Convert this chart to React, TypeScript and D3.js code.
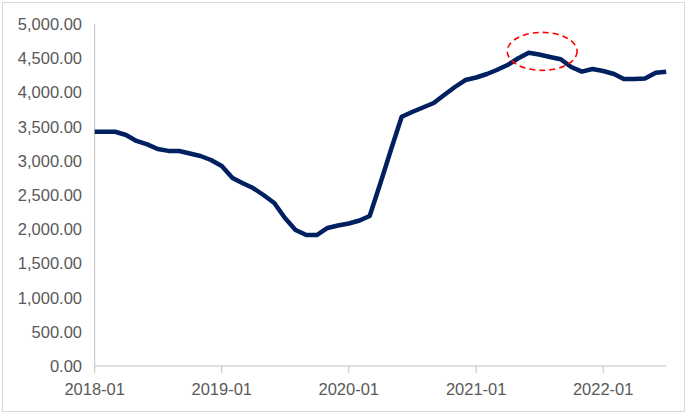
import React from "react";
import * as d3 from "d3";

const W = 689;
const H = 416;

// Monthly categories 2018-01 .. 2022-07
const startMonth = new Date(2018, 0, 1);
const endMonth = new Date(2022, 6, 1);
const months: Date[] = d3.timeMonth.range(startMonth, d3.timeMonth.offset(endMonth, 1));

const values: number[] = [
  3425, 3425, 3425, 3377, 3290, 3240, 3172, 3145, 3143, 3107,
  3070, 3012, 2924, 2749, 2675, 2602, 2500, 2383, 2167, 1988,
  1915, 1915, 2018, 2054, 2083, 2127, 2193, 2675, 3158, 3645,
  3713, 3779, 3845, 3962, 4079, 4181, 4218, 4269, 4327, 4400,
  4496, 4580, 4554, 4518, 4484, 4371, 4303, 4342, 4313, 4269,
  4196, 4196, 4203, 4288, 4303,
];

const yTicks: number[] = [0, 500, 1000, 1500, 2000, 2500, 3000, 3500, 4000, 4500, 5000];
const xTickLabels: string[] = ["2018-01", "2019-01", "2020-01", "2021-01", "2022-01"];

// Annotation ellipse (around the peak), in data terms
const highlightCenter = { date: new Date(2021, 6, 1), value: 4600 };
const highlightSpan = { months: 6.6, value: 555 };

export default function App() {
  const left = 94.7;
  const right = 666.2;
  const top = 24;
  const bottom = 366;

  const x = d3.scaleTime().domain([startMonth, endMonth]).range([left, right]);
  const y = d3.scaleLinear().domain([0, 5000]).range([bottom, top]);

  const data = months.map((d, i) => ({ d, v: values[i] }));
  const line = d3
    .line<{ d: Date; v: number }>()
    .x((p) => x(p.d))
    .y((p) => y(p.v));

  const fmt = d3.format(",.2f");
  const axisColor = "#bfbfbf";
  const textColor = "#595959";
  const font = "'Liberation Sans', Arial, Helvetica, sans-serif";

  const monthPx = (x(d3.timeMonth.offset(startMonth, 12)) - x(startMonth)) / 12;
  const cx = x(highlightCenter.date) + 3;
  const cy = y(highlightCenter.value);
  const rx = (monthPx * highlightSpan.months) / 2;
  const ry = (y(0) - y(highlightSpan.value)) / 2;

  return (
    <svg
      width={W}
      height={H}
      style={{ position: "absolute", left: 0, top: 0, background: "#fff" }}
    >
      <rect x={2.5} y={2.5} width={682} height={409} fill="#fff" stroke="#d9d9d9" strokeWidth={1} />
      {/* y axis line */}
      <line x1={left} x2={left} y1={y(5000)} y2={bottom} stroke={axisColor} strokeWidth={1} />
      {/* x axis line */}
      <line x1={left} x2={right} y1={bottom} y2={bottom} stroke={axisColor} strokeWidth={1} />
      {xTickLabels.map((lab) => {
        const [yy, mm] = lab.split("-").map(Number);
        const xx = x(new Date(yy, mm - 1, 1));
        return (
          <g key={lab}>
            <line x1={xx} x2={xx} y1={bottom} y2={bottom + 7} stroke={axisColor} strokeWidth={1} />
            <text
              x={xx}
              y={389}
              textAnchor="middle"
              dominantBaseline="central"
              fontFamily={font}
              fontSize={16.5}
              fill={textColor}
            >
              {lab}
            </text>
          </g>
        );
      })}
      {yTicks.map((t) => (
        <text
          key={t}
          x={82}
          y={y(t)}
          textAnchor="end"
          dominantBaseline="central"
          fontFamily={font}
          fontSize={16.5}
          fill={textColor}
        >
          {fmt(t)}
        </text>
      ))}
      <path
        d={line(data) || ""}
        fill="none"
        stroke="#002060"
        strokeWidth={4.5}
        strokeLinejoin="round"
        strokeLinecap="butt"
      />
      <ellipse
        cx={cx}
        cy={cy}
        rx={rx}
        ry={ry}
        fill="none"
        stroke="#ff0000"
        strokeWidth={1.6}
        strokeDasharray="6 4"
      />
    </svg>
  );
}
